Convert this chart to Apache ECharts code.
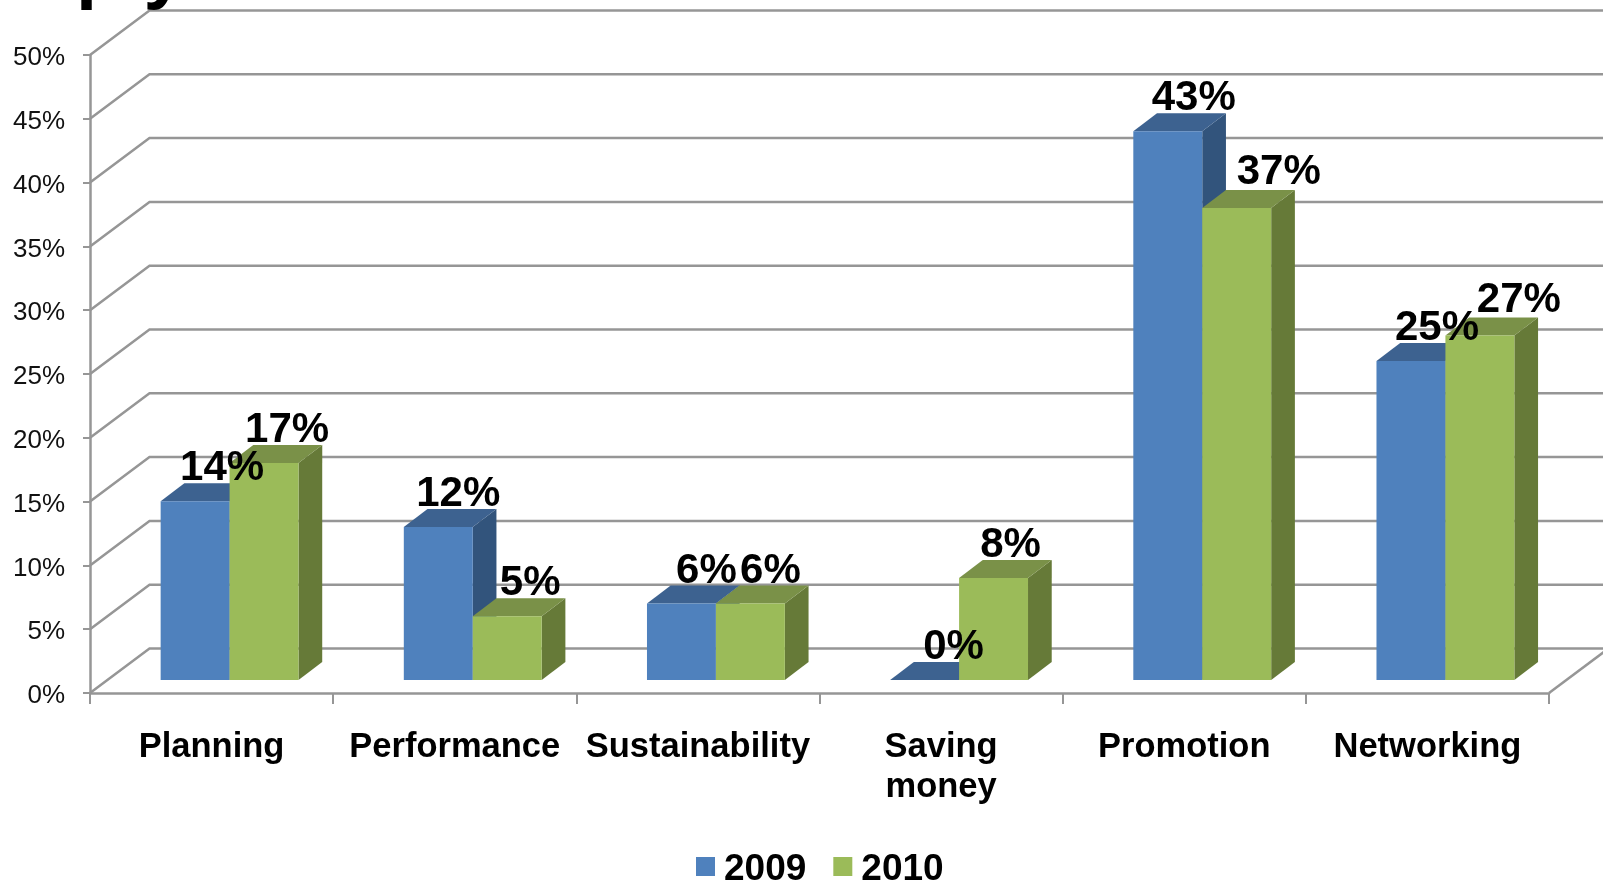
<!DOCTYPE html>
<html><head><meta charset="utf-8">
<style>html,body{margin:0;padding:0;background:#fff}#c{width:1603px;height:880px}</style>
<script src="https://cdn.jsdelivr.net/npm/echarts@6/dist/echarts.min.js"></script>
</head><body><div id="c"></div>
<script>
const categories = ['Planning','Performance','Sustainability','Saving\nmoney','Promotion','Networking'];
const values2009 = [14,12,6,0,43,25];
const values2010 = [17,5,6,8,37,27];
const yTicks = [0,5,10,15,20,25,30,35,40,45,50];

// Drawing style, kept apart from the data
const FONT = '"Liberation Sans", Arial, sans-serif';
const WALL_DX = 59.5, WALL_DY = 44.5;
const BAR_DY = 13, BAR_W_FRAC = 0.2835, BAR_CENTER_SHIFT = 18;
const SIDE_DX = 23.7, SIDE_DY = 18;
const LINE = '#969696';
const nudge2009 = [27,20,25,29,26,26], lift2009 = [-7,-7,-7,-7,-7,-7];
const nudge2010 = [23,23,20,17,42,39], lift2010 = [-7,-7,-7,-7,-4,-4];
const colors = {
  '2009': {front:'#4F81BD', top:'#3D6290', side:'#32547C'},
  '2010': {front:'#9BBB59', top:'#7A9148', side:'#667A38'}
};

function barSeries(name, vals, sign){
  const c = colors[name];
  return {
    type:'custom', name, silent:true, z:3,
    itemStyle:{color:c.front},
    data: vals.map((v,i)=>[i,v]),
    encode:{x:0,y:1},
    renderItem(params, api){
      const i = api.value(0), v = api.value(1);
      const base = api.coord([i,0]), tp = api.coord([i,v]);
      const w = api.size([1,0])[0]*BAR_W_FRAC;
      const boundary = base[0]+BAR_CENTER_SHIFT;
      const x0 = sign<0 ? boundary-w : boundary, x1 = x0+w;
      const yb = base[1]-BAR_DY, yt = tp[1]-BAR_DY;
      const poly = (pts,fill)=>({type:'polygon',shape:{points:pts},style:{fill}});
      return {type:'group',children:[
        poly([[x1,yb],[x1+SIDE_DX,yb-SIDE_DY],[x1+SIDE_DX,yt-SIDE_DY],[x1,yt]],c.side),
        poly([[x0,yt],[x1,yt],[x1+SIDE_DX,yt-SIDE_DY],[x0+SIDE_DX,yt-SIDE_DY]],c.top),
        {type:'rect',shape:{x:x0,y:yt,width:w,height:yb-yt},style:{fill:c.front}}
      ]};
    }
  };
}
function labelSeries(vals, sign, nudge, lift){
  return {
    type:'custom', silent:true, z:10,
    data: vals.map((v,i)=>[i,v]),
    encode:{x:0,y:1},
    renderItem(params, api){
      const i = api.value(0), v = api.value(1);
      const base = api.coord([i,0]), tp = api.coord([i,v]);
      const w = api.size([1,0])[0]*BAR_W_FRAC;
      const boundary = base[0]+BAR_CENTER_SHIFT;
      const cx = boundary + sign*w/2 + nudge[i];
      const y = tp[1]-BAR_DY-SIDE_DY-lift[i]-0.5;
      return {type:'text',style:{text:v+'%',x:cx,y,align:'center',verticalAlign:'bottom',
        font:'bold 42px '+FONT,fill:'#000',lineHeight:42}};
    }
  };
}
const wallSeries = {
  type:'custom', silent:true, z:1,
  data: yTicks.map(t=>[0,t]),
  encode:{x:0,y:1},
  renderItem(params, api){
    const t = api.value(1), y = api.coord([0,t])[1];
    const cs = params.coordSys, l = cs.x, r = cs.x+cs.width;
    const st = {stroke:LINE,lineWidth:2.5,fill:null};
    const kids = [{type:'polyline',shape:{points:[[l,y],[l+WALL_DX,y-WALL_DY],[r+WALL_DX,y-WALL_DY]]},style:st}];
    if(t===0) kids.push({type:'line',shape:{x1:r,y1:y,x2:r+WALL_DX,y2:y-WALL_DY},style:st});
    return {type:'group',children:kids};
  }
};
const chart = echarts.init(document.getElementById('c'),null,{renderer:'canvas'});
chart.setOption({
  animation:false, backgroundColor:'#fff',
  grid:{left:90,right:54,top:55,bottom:187,containLabel:false},
  graphic:[{type:'text',left:76,top:-65,z:20,silent:true,
    style:{text:'ply',font:'bold 76px '+FONT,fill:'#000'}}],
  legend:{left:691,top:846,icon:'rect',itemWidth:19,itemHeight:19,itemGap:27,
    data:['2009','2010'],selectedMode:false,
    formatter:'{a|{name}}',
    textStyle:{fontFamily:'Liberation Sans',fontWeight:'bold',fontSize:37,color:'#000',
      rich:{a:{fontFamily:'Liberation Sans',fontWeight:'bold',fontSize:37,color:'#000',padding:[6,0,0,4]}}}},
  xAxis:{type:'category',data:categories,
    axisLine:{lineStyle:{color:LINE,width:2.5}},
    axisTick:{show:true,length:11,lineStyle:{color:LINE,width:2}},
    splitLine:{show:false},
    axisLabel:{interval:0,margin:34,color:'#000',fontFamily:'Liberation Sans',fontWeight:'bold',fontSize:34.5,lineHeight:40}},
  yAxis:{type:'value',min:0,max:50,interval:5,
    axisLine:{show:true,lineStyle:{color:LINE,width:2.5}},
    axisTick:{show:true,length:7,lineStyle:{color:LINE,width:2}},
    splitLine:{show:false},
    axisLabel:{margin:25,color:'#111',fontFamily:'Liberation Sans',fontSize:26,verticalAlign:'top',lineHeight:6,formatter:'{value}%'}},
  series:[wallSeries, barSeries('2009',values2009,-1), barSeries('2010',values2010,1),
    labelSeries(values2009,-1,nudge2009,lift2009), labelSeries(values2010,1,nudge2010,lift2010)]
});
</script></body></html>
